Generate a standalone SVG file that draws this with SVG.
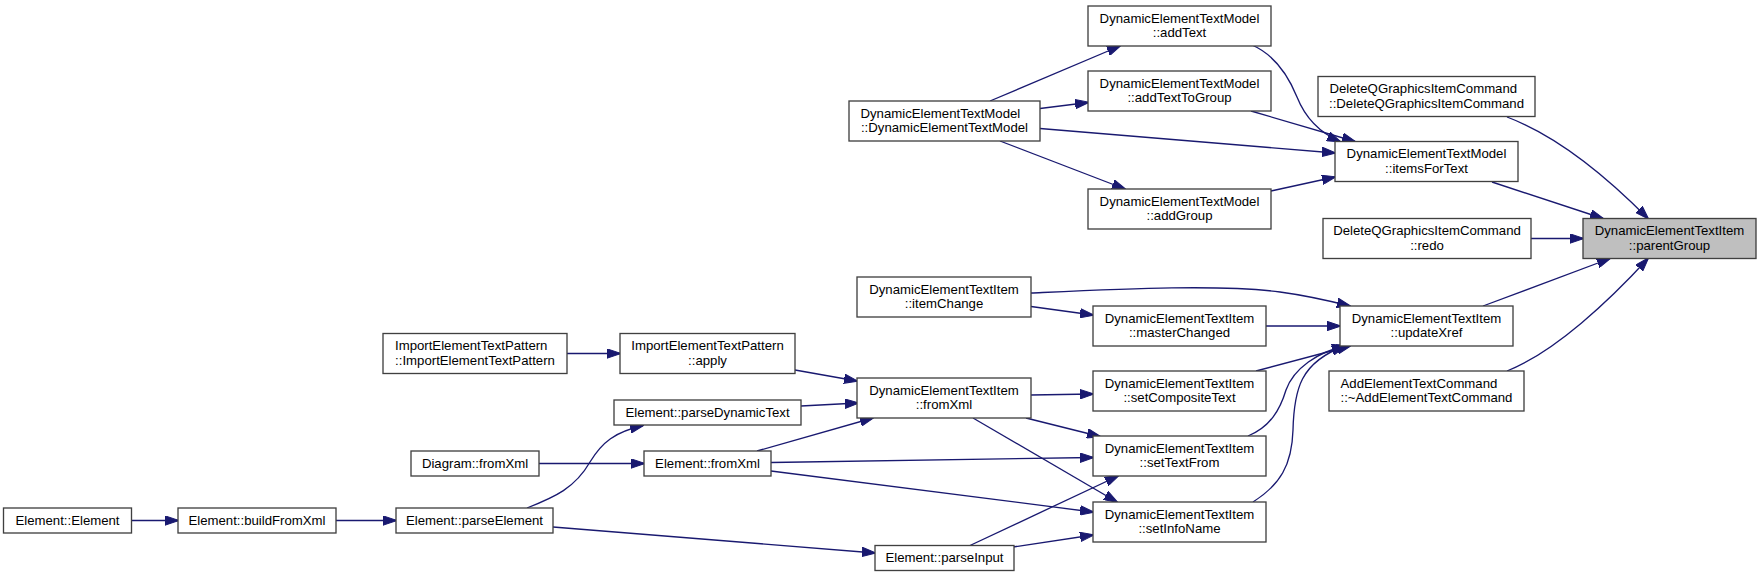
<svg xmlns="http://www.w3.org/2000/svg" width="1761" height="577" viewBox="0 0 1761 577">
<style>
.node rect{fill:#ffffff;stroke:#404040;stroke-width:1.33}
.node rect.hl{fill:#bfbfbf}
.node text{font-family:"Liberation Sans",Arial,Helvetica,sans-serif;font-size:13.2px;fill:#000000;text-anchor:middle}
.node text.s{text-anchor:start}
.edges path{fill:none;stroke:#191970;stroke-width:1.33;marker-end:url(#ah)}
</style>
<defs>
<marker id="ah" viewBox="0 0 14 10" refX="13" refY="5" markerWidth="14" markerHeight="10" markerUnits="userSpaceOnUse" orient="auto">
<path d="M0,0.3 L14,5 L0,9.7 z" fill="#191970" stroke="#191970" stroke-width="1"/>
</marker>
</defs>
<rect x="0" y="0" width="1761" height="577" fill="#ffffff"/>
<g class="edges">
<path d="M990,101 L1120,46"/>
<path d="M1040,108.5 L1088,102.5"/>
<path d="M1040,128.5 L1335,153"/>
<path d="M1000,141 L1125,189"/>
<path d="M1252,45 C1275,55 1288,75 1297,97 C1305,117 1318,132 1340,141.5"/>
<path d="M1251,111 L1355,141.5"/>
<path d="M1271,191 L1335,177"/>
<path d="M1507,117 C1555,135 1605,175 1648,218.5"/>
<path d="M1492,182 L1603,218.5"/>
<path d="M1531,238.5 L1583,238.5"/>
<path d="M1483,306 L1610,258.5"/>
<path d="M1507,371 C1555,352 1610,300 1648,258.5"/>
<path d="M1031,293 C1120,289 1220,284 1280,292 C1310,296 1330,301 1350,306"/>
<path d="M1031,306.5 L1093,315"/>
<path d="M1266,326 L1340,326"/>
<path d="M1256,371 L1350,346"/>
<path d="M1248,436 C1270,427 1280,410 1286,390 C1294,368 1318,352 1345,346"/>
<path d="M1253,502 C1280,485 1292,465 1293,430 C1294,390 1300,362 1345,346"/>
<path d="M1031,395 L1093,394"/>
<path d="M1026,418 L1100,436.5"/>
<path d="M973,418 L1117,502"/>
<path d="M795,370 L857,381"/>
<path d="M801,406 L858,403"/>
<path d="M757,451 L873,418"/>
<path d="M771,462.5 L1093,457.5"/>
<path d="M771,471 L1093,512"/>
<path d="M970,545.5 L1118,476"/>
<path d="M1013,547 L1093,535"/>
<path d="M553,527 L875,553"/>
<path d="M527,508 C555,497 575,488 590,462 C602,442 615,432 643,425.5"/>
<path d="M539,463.5 L644,463.5"/>
<path d="M567,353.5 L620,353.5"/>
<path d="M131.5,520.5 L178,520.5"/>
<path d="M336,520.5 L396,520.5"/>
</g>
<g id="n_addText" class="node"><rect x="1088" y="6" width="183" height="40"/><text x="1179.5" y="22.5">DynamicElementTextModel</text><text x="1179.5" y="37">::addText</text></g>
<g id="n_addTextToGroup" class="node"><rect x="1088" y="71" width="183" height="40"/><text x="1179.5" y="87.5">DynamicElementTextModel</text><text x="1179.5" y="102">::addTextToGroup</text></g>
<g id="n_detm" class="node"><rect x="849" y="101" width="191" height="40"/><text class="s" x="860.5" y="117.5">DynamicElementTextModel</text><text x="944.5" y="132">::DynamicElementTextModel</text></g>
<g id="n_addGroup" class="node"><rect x="1088" y="189" width="183" height="40"/><text x="1179.5" y="205.5">DynamicElementTextModel</text><text x="1179.5" y="220">::addGroup</text></g>
<g id="n_deleteCtor" class="node"><rect x="1318" y="76.5" width="217" height="40"/><text class="s" x="1329.5" y="93">DeleteQGraphicsItemCommand</text><text x="1426.5" y="107.5">::DeleteQGraphicsItemCommand</text></g>
<g id="n_itemsForText" class="node"><rect x="1335" y="141.5" width="183" height="40"/><text x="1426.5" y="158">DynamicElementTextModel</text><text x="1426.5" y="172.5">::itemsForText</text></g>
<g id="n_redo" class="node"><rect x="1323" y="218.5" width="208" height="40"/><text x="1427" y="235">DeleteQGraphicsItemCommand</text><text x="1427" y="249.5">::redo</text></g>
<g id="n_parentGroup" class="node"><rect class="hl" x="1583" y="218.5" width="173" height="40"/><text x="1669.5" y="235">DynamicElementTextItem</text><text x="1669.5" y="249.5">::parentGroup</text></g>
<g id="n_itemChange" class="node"><rect x="857" y="277" width="174" height="40"/><text x="944" y="293.5">DynamicElementTextItem</text><text x="944" y="308">::itemChange</text></g>
<g id="n_masterChanged" class="node"><rect x="1093" y="306" width="173" height="40"/><text x="1179.5" y="322.5">DynamicElementTextItem</text><text x="1179.5" y="337">::masterChanged</text></g>
<g id="n_updateXref" class="node"><rect x="1340" y="306" width="173" height="40"/><text x="1426.5" y="322.5">DynamicElementTextItem</text><text x="1426.5" y="337">::updateXref</text></g>
<g id="n_addElemCmd" class="node"><rect x="1329" y="371" width="195" height="40"/><text class="s" x="1340.5" y="387.5">AddElementTextCommand</text><text x="1426.5" y="402">::~AddElementTextCommand</text></g>
<g id="n_importCtor" class="node"><rect x="383" y="333.5" width="184" height="40"/><text class="s" x="395" y="350">ImportElementTextPattern</text><text x="475" y="364.5">::ImportElementTextPattern</text></g>
<g id="n_apply" class="node"><rect x="620" y="333.5" width="175" height="40"/><text x="707.5" y="350">ImportElementTextPattern</text><text x="707.5" y="364.5">::apply</text></g>
<g id="n_fromXml" class="node"><rect x="857" y="378" width="174" height="40"/><text x="944" y="394.5">DynamicElementTextItem</text><text x="944" y="409">::fromXml</text></g>
<g id="n_setCompositeText" class="node"><rect x="1093" y="371" width="173" height="40"/><text x="1179.5" y="387.5">DynamicElementTextItem</text><text x="1179.5" y="402">::setCompositeText</text></g>
<g id="n_parseDynamicText" class="node"><rect x="614" y="400" width="187" height="25"/><text x="707.5" y="416.5">Element::parseDynamicText</text></g>
<g id="n_diagramFromXml" class="node"><rect x="411" y="451" width="128" height="25"/><text x="475" y="467.5">Diagram::fromXml</text></g>
<g id="n_elementFromXml" class="node"><rect x="644" y="451" width="127" height="25"/><text x="707.5" y="467.5">Element::fromXml</text></g>
<g id="n_setTextFrom" class="node"><rect x="1093" y="436" width="173" height="40"/><text x="1179.5" y="452.5">DynamicElementTextItem</text><text x="1179.5" y="467">::setTextFrom</text></g>
<g id="n_setInfoName" class="node"><rect x="1093" y="502" width="173" height="40"/><text x="1179.5" y="518.5">DynamicElementTextItem</text><text x="1179.5" y="533">::setInfoName</text></g>
<g id="n_elementElement" class="node"><rect x="3.5" y="508" width="128" height="25"/><text x="67.5" y="524.5">Element::Element</text></g>
<g id="n_buildFromXml" class="node"><rect x="178" y="508" width="158" height="25"/><text x="257" y="524.5">Element::buildFromXml</text></g>
<g id="n_parseElement" class="node"><rect x="396" y="508" width="157" height="25"/><text x="474.5" y="524.5">Element::parseElement</text></g>
<g id="n_parseInput" class="node"><rect x="875" y="545.5" width="139" height="25"/><text x="944.5" y="562">Element::parseInput</text></g>
</svg>
